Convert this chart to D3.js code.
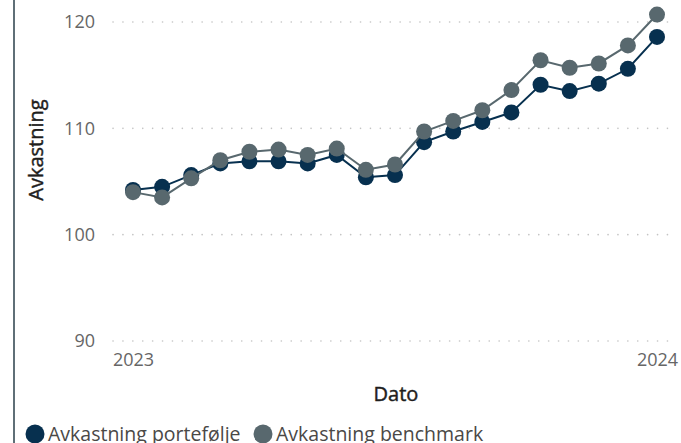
<!DOCTYPE html>
<html>
<head>
<meta charset="utf-8">
<script src="https://cdn.jsdelivr.net/npm/d3@7"></script>
<style>
  body { margin: 0; background: #fff; }
  svg { display: block; font-family: "Open Sans", "Noto Sans", sans-serif; }
</style>
</head>
<body>
<svg id="chart" width="681" height="443"></svg>
<script>
// data
var points = d3.range(19);
var xTickIdx = [0, 18];
var xTickLabels = ["2023", "2024"];
var yTicks = [90, 100, 110, 120];

var portefolje = [104.2, 104.5, 105.6, 106.7, 106.9, 106.9, 106.7, 107.5, 105.4, 105.6,
                  108.7, 109.7, 110.6, 111.5, 114.1, 113.5, 114.2, 115.6, 118.6];
var benchmark  = [104.0, 103.5, 105.3, 107.0, 107.8, 108.0, 107.5, 108.1, 106.1, 106.6,
                  109.7, 110.7, 111.7, 113.6, 116.4, 115.7, 116.1, 117.8, 120.7];

var seriesNames = ["Avkastning portefølje", "Avkastning benchmark"];
var colors = ["#07304f", "#58686e"];

var svg = d3.select("#chart");

var x = d3.scaleLinear().domain([0, 18]).range([133, 657]);
var y = d3.scaleLinear().domain([90, 120]).range([341, 22]);

// left frame line
svg.append("line")
  .attr("x1", 14).attr("x2", 14)
  .attr("y1", 0).attr("y2", 443)
  .attr("stroke", "#5f6f77")
  .attr("stroke-width", 2);

// gridlines
svg.append("g").selectAll("line")
  .data(yTicks)
  .enter().append("line")
  .attr("x1", 113).attr("x2", 670)
  .attr("y1", function (d) { return y(d); })
  .attr("y2", function (d) { return y(d); })
  .attr("stroke", "#c4c4c4")
  .attr("stroke-width", 1.6)
  .attr("stroke-linecap", "round")
  .attr("stroke-dasharray", "0.1,9.8");

// y axis
var yAxis = d3.axisLeft(y).tickValues(yTicks).tickSize(0).tickPadding(0);
var gy = svg.append("g").attr("transform", "translate(95,0)").call(yAxis);
gy.select(".domain").remove();
gy.selectAll("text")
  .attr("font-size", "18px")
  .attr("font-family", "'Open Sans', sans-serif")
  .attr("fill", "#666666");

// x axis
var xAxis = d3.axisBottom(x).tickValues(xTickIdx).tickSize(0).tickPadding(0)
  .tickFormat(function (d, i) { return xTickLabels[i]; });
var gx = svg.append("g").attr("transform", "translate(0,353)").call(xAxis);
gx.select(".domain").remove();
gx.selectAll("text")
  .attr("font-size", "18px")
  .attr("font-family", "'Open Sans', sans-serif")
  .attr("fill", "#666666");

// axis titles (thin stroke to get a medium weight)
svg.append("text")
  .attr("transform", "translate(43,150) rotate(-90)")
  .attr("text-anchor", "middle")
  .attr("font-size", "20px")
  .attr("fill", "#1f1e1d")
  .attr("stroke", "#1f1e1d")
  .attr("stroke-width", 0.45)
  .text("Avkastning");

svg.append("text")
  .attr("x", 396).attr("y", 401)
  .attr("text-anchor", "middle")
  .attr("font-size", "20px")
  .attr("fill", "#1f1e1d")
  .attr("stroke", "#1f1e1d")
  .attr("stroke-width", 0.45)
  .text("Dato");

// lines and markers
var line = d3.line()
  .x(function (d, i) { return x(points[i]); })
  .y(function (d) { return y(d); });

[portefolje, benchmark].forEach(function (vals, k) {
  var g = svg.append("g");
  g.append("path")
    .datum(vals)
    .attr("d", line)
    .attr("fill", "none")
    .attr("stroke", colors[k])
    .attr("stroke-width", 2);
  g.selectAll("circle")
    .data(vals)
    .enter().append("circle")
    .attr("cx", function (d, i) { return x(points[i]); })
    .attr("cy", function (d) { return y(d); })
    .attr("r", 8)
    .attr("fill", colors[k]);
});

// legend
var legendX = [35, 263];
var legend = svg.append("g").selectAll("g")
  .data(seriesNames)
  .enter().append("g")
  .attr("transform", function (d, i) { return "translate(" + legendX[i] + ",434)"; });
legend.append("circle").attr("r", 9.5).attr("fill", function (d, i) { return colors[i]; });
legend.append("text")
  .attr("x", 13).attr("y", 7)
  .attr("font-size", "19.5px")
  .attr("fill", "#4a4846")
  .text(function (d) { return d; });
</script>
</body>
</html>
